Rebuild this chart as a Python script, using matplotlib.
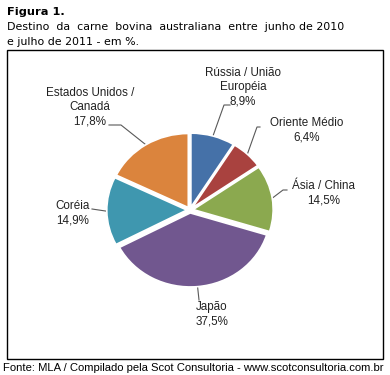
import numpy as np
import matplotlib.pyplot as plt
from matplotlib.patches import Rectangle

# dados (%)
paises = ['Rússia / União\nEuropéia', 'Oriente Médio', 'Ásia / China', 'Japão', 'Coréia', 'Estados Unidos /\nCanadá']
valores = [8.9, 6.4, 14.5, 37.5, 14.9, 17.8]
rotulos = ['8,9%', '6,4%', '14,5%', '37,5%', '14,9%', '17,8%']
cores = ['#4571A8', '#A9423F', '#8BA94F', '#71578F', '#3F97AF', '#DB843D']

W, H = 390, 375
fig = plt.figure(figsize=(W / 100, H / 100), dpi=100)
ax = fig.add_axes([0, 0, 1, 1])
ax.set_xlim(0, W)
ax.set_ylim(0, H)
ax.axis('off')

# eixo da pizza (levemente achatado como no original)
cx, cy, rx, ry = 190, 210, 80, 74
pax = fig.add_axes([(cx - rx) / W, (H - cy - ry) / H, 2 * rx / W, 2 * ry / H])
expl = 0.04
wedges, _ = pax.pie(valores, colors=cores, startangle=90, counterclock=False,
                    explode=[expl] * len(valores),
                    wedgeprops=dict(edgecolor='white', linewidth=1.2))
pax.set_aspect('auto')
pax.set_xlim(-1, 1)
pax.set_ylim(-1, 1)
pax.axis('off')

# moldura
ax.add_patch(Rectangle((7, H - 359), 376, 309, fill=False, edgecolor='black', lw=1))

# rótulos: posição do texto e cotovelo da linha (px a partir do topo)
txt_pos = [(243, 87), (307, 130), (324, 193), (212, 314), (73, 213), (90, 107)]
elbow = [[(230, 105), (224, 105)], [(260, 127), (257, 127)], [(287, 190), (283, 190)],
         [(199, 300)], [(92, 209)], [(109, 125), (121, 125)]]

fonte = 'Liberation Sans'
inv = ax.transData.inverted()
for w, nome, rot, tp, el in zip(wedges, paises, rotulos, txt_pos, elbow):
    ang = np.deg2rad((w.theta1 + w.theta2) / 2)
    r = 1 + expl
    p = inv.transform(pax.transData.transform((r * np.cos(ang), r * np.sin(ang))))
    pts = [(x, H - y) for x, y in el] + [tuple(p)]
    xs, ys = zip(*pts)
    ax.plot(xs, ys, color='#595959', lw=0.8)
    ax.text(tp[0], H - tp[1], nome + '\n' + rot, ha='center', va='center',
            fontsize=8.4, family=fonte, color='#222222', linespacing=1.25)

# títulos
fig.text(7 / W, 1 - 12 / H, 'Figura 1.', ha='left', va='center', fontsize=8.2,
         fontweight='bold', family='DejaVu Sans')
fig.text(7 / W, 1 - 27 / H, 'Destino  da  carne  bovina  australiana  entre  junho de 2010',
         ha='left', va='center', fontsize=7.9, family='DejaVu Sans')
fig.text(7 / W, 1 - 42 / H, 'e julho de 2011 - em %.',
         ha='left', va='center', fontsize=7.9, family='DejaVu Sans')
fig.text(3 / W, 1 - 368 / H, 'Fonte: MLA / Compilado pela Scot Consultoria - www.scotconsultoria.com.br',
         ha='left', va='center', fontsize=8.1, family='Liberation Sans')

fig.savefig('out.png', dpi=100)
